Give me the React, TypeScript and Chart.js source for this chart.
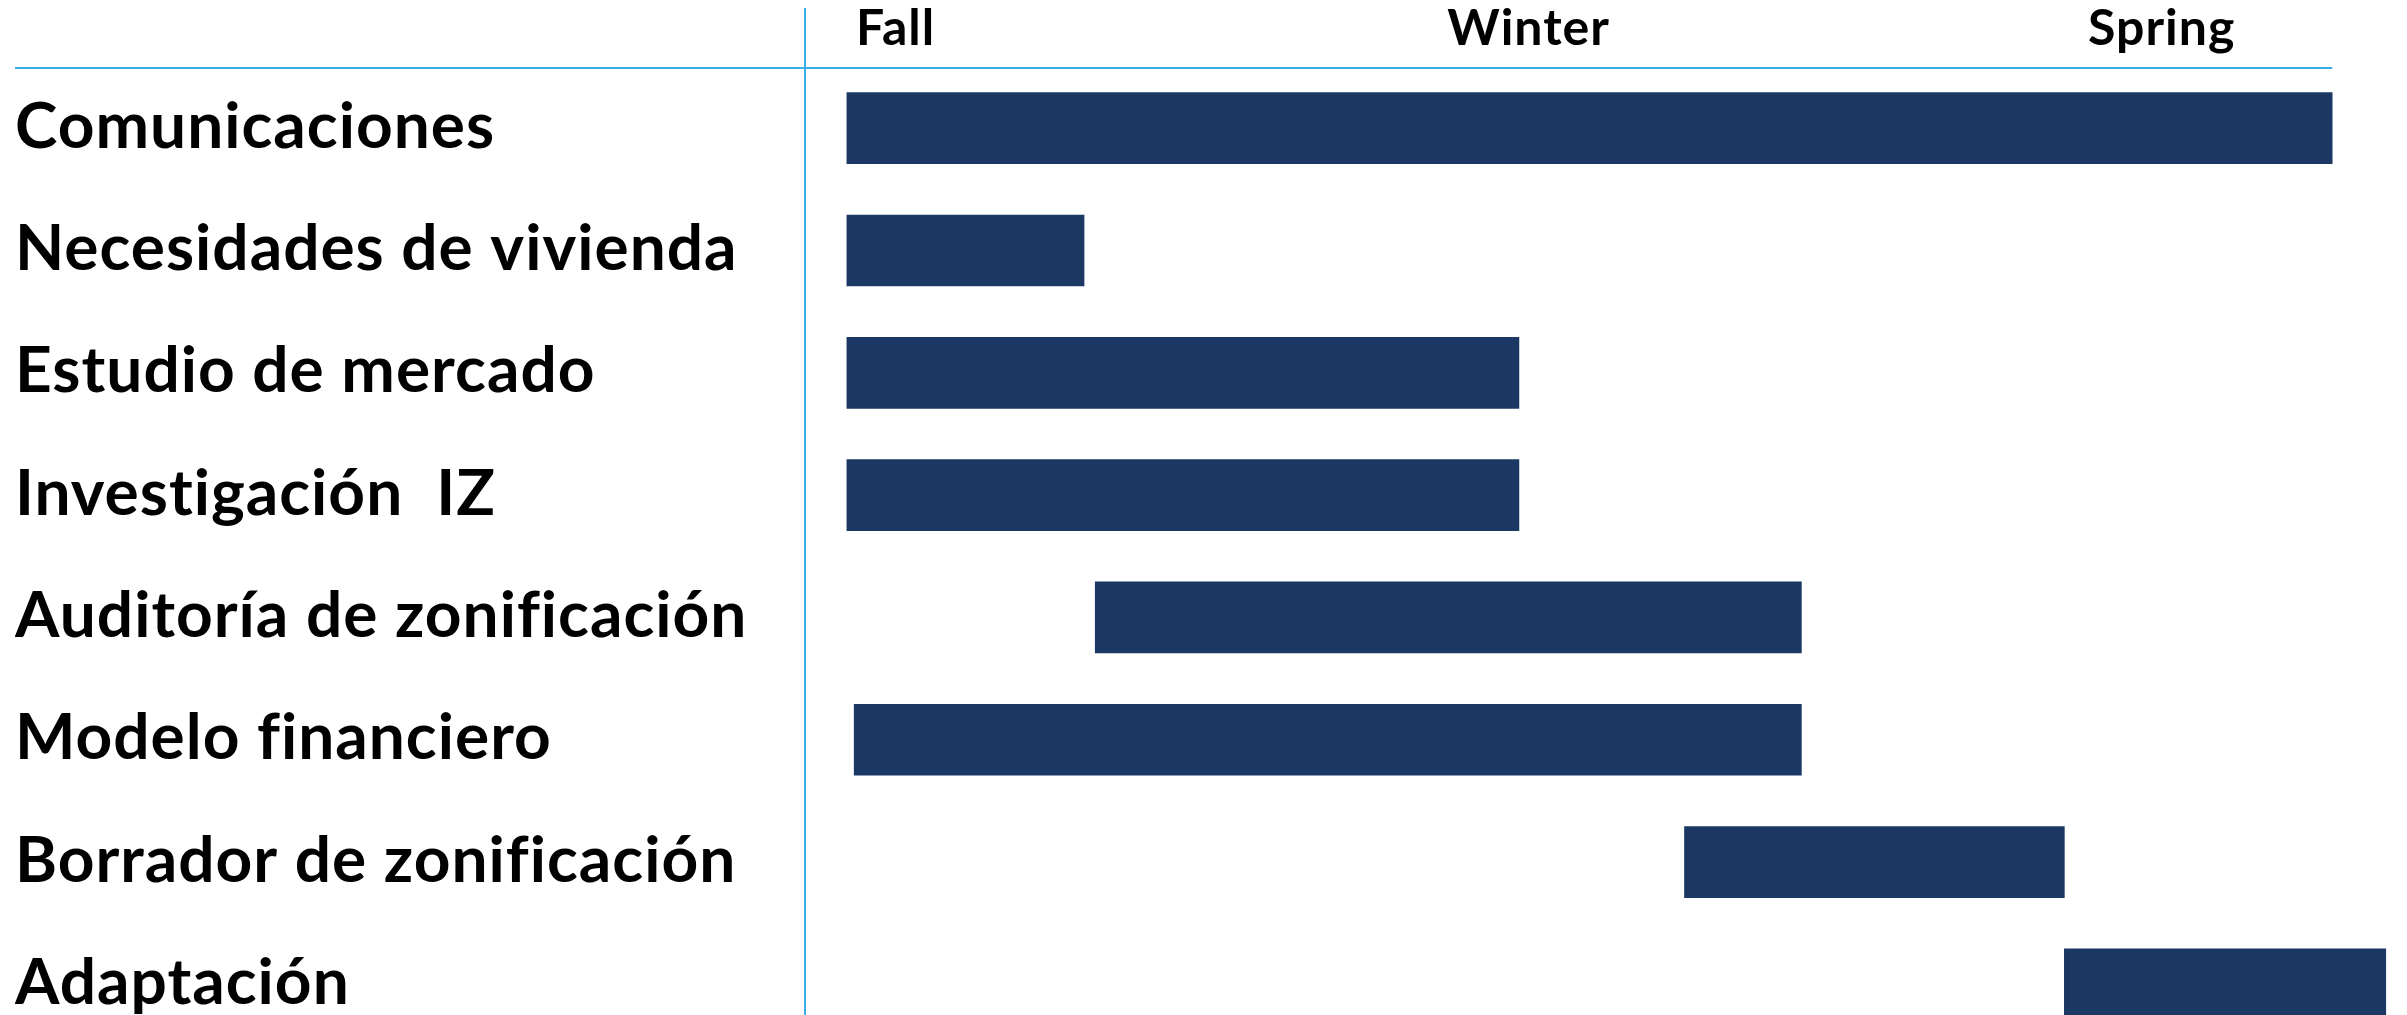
import { useEffect, useRef } from "react";
import { Chart, registerables } from "chart.js";

Chart.register(...registerables);

// ---- data ----
const tasks = [
  "Comunicaciones",
  "Necesidades de vivienda",
  "Estudio de mercado",
  "Investigación  IZ",
  "Auditoría de zonificación",
  "Modelo financiero",
  "Borrador de zonificación",
  "Adaptación",
];
const startWeeks = [0, 0, 0, 0, 5.1, 0.15, 17.2, 25.0];
const endWeeks = [30.5, 4.87, 13.8, 13.8, 19.6, 19.6, 25.0, 31.6];

const seasonLabels = ["Fall", "Winter", "Spring"];
const seasonWeeks = [1, 14, 27];

const axisMinWeek = -0.86;
const axisMaxWeek = 31.8;
const headerRuleEndWeek = 30.5;
const rowMin = -0.5;
const rowMax = 7.25;

// ---- styles ----
const BAR_COLOR = "#1B3864";
const RULE_COLOR = "#38AEE4";
const FONT = "Lato";
const CANVAS_W = 2391;
const CANVAS_H = 1007;

const rulesPlugin = {
  id: "rules",
  beforeDraw(chart: any) {
    try {
      chart.ctx.letterSpacing = "1px";
    } catch (e) {}
  },
  beforeDatasetsDraw(chart: any) {
    const { ctx, chartArea } = chart;
    const xs = chart.scales.x;
    ctx.save();
    ctx.strokeStyle = RULE_COLOR;
    ctx.lineWidth = 2;
    ctx.beginPath();
    ctx.moveTo(7, chartArea.top + 1);
    ctx.lineTo(xs.getPixelForValue(headerRuleEndWeek), chartArea.top + 1);
    ctx.stroke();
    ctx.beginPath();
    ctx.moveTo(chartArea.left, 0);
    ctx.lineTo(chartArea.left, chart.height);
    ctx.stroke();
    ctx.restore();
  },
};

export default function App() {
  const canvasRef = useRef<HTMLCanvasElement | null>(null);

  useEffect(() => {
    if (!canvasRef.current) return;
    const chart = new Chart(canvasRef.current, {
      type: "bar",
      data: {
        datasets: [
          {
            data: tasks.map((_, i) => ({ x: [startWeeks[i], endWeeks[i]], y: i })) as any,
            backgroundColor: BAR_COLOR,
            borderWidth: 0,
            borderSkipped: false,
            barThickness: 71,
          },
        ],
      },
      options: {
        indexAxis: "y",
        animation: false,
        responsive: false,
        devicePixelRatio: 1,
        layout: { padding: { left: 7, right: 3.5, top: 0, bottom: 0 } },
        plugins: {
          legend: { display: false },
          tooltip: { enabled: false },
          title: { display: false },
        },
        scales: {
          x: {
            type: "linear",
            position: "top",
            min: axisMinWeek,
            max: axisMaxWeek,
            grid: { display: false, drawTicks: false },
            border: { display: false },
            afterFit: (s: any) => {
              s.height = 59;
              s.paddingLeft = 0;
              s.paddingRight = 0;
            },
            afterBuildTicks: (s: any) => {
              s.ticks = seasonWeeks.map((v) => ({ value: v }));
            },
            ticks: {
              autoSkip: false,
              maxRotation: 0,
              padding: 8,
              color: "#000",
              font: { family: FONT, weight: "bold", size: 50 },
              callback: (_v: any, i: number) => seasonLabels[i] ?? "",
            },
          },
          y: {
            type: "linear",
            position: "left",
            reverse: true,
            offset: false,
            grace: 0,
            min: rowMin,
            max: rowMax,
            grid: { display: false, drawTicks: false },
            border: { display: false },
            afterFit: (s: any) => {
              s.width = 790;
              s.paddingTop = 0;
              s.paddingBottom = 0;
            },
            afterBuildTicks: (s: any) => {
              s.ticks = tasks.map((_, i) => ({ value: i }));
            },
            ticks: {
              autoSkip: false,
              crossAlign: "far",
              labelOffset: -1,
              color: "#000",
              font: { family: FONT, weight: "bold", size: 64 },
              callback: (_v: any, i: number) => tasks[i] ?? "",
            },
          },
        },
      },
      plugins: [rulesPlugin],
    } as any);
    return () => chart.destroy();
  }, []);

  return (
    <div
      style={{
        position: "fixed",
        top: 8,
        left: 8,
        width: CANVAS_W,
        height: CANVAS_H,
        overflow: "hidden",
        background: "#fff",
      }}
    >
      <canvas
        ref={canvasRef}
        width={CANVAS_W}
        height={CANVAS_H}
        style={{ display: "block", width: CANVAS_W, height: CANVAS_H }}
      />
    </div>
  );
}
